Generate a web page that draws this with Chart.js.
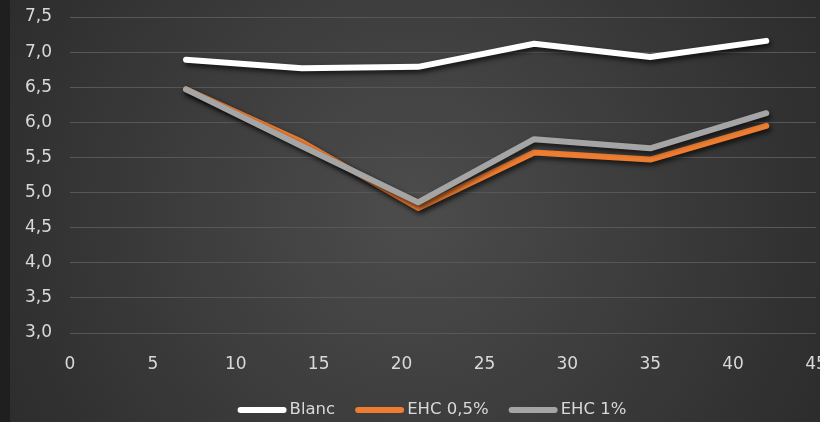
<!DOCTYPE html>
<html>
<head>
<meta charset="utf-8">
<script src="https://cdn.jsdelivr.net/npm/chart.js@4"></script>
<style>
  html, body { margin: 0; padding: 0; background: #1f1f1f; }
  #wrap { width: 820px; height: 422px; }
</style>
</head>
<body>
<div id="wrap"><canvas id="phChart" width="820" height="422"></canvas></div>
<script>
const days = [7, 14, 21, 28, 35, 42];
const blanc = [6.89, 6.77, 6.79, 7.12, 6.93, 7.16];
const ehc05 = [6.47, 5.72, 4.78, 5.57, 5.47, 5.95];
const ehc1 = [6.47, 5.66, 4.86, 5.76, 5.63, 6.13];

const seriesNames = ["Blanc", "EHC 0,5%", "EHC 1%"];
const seriesColors = ["#ffffff", "#ed7d31", "#a5a5a5"];

const textColor = "#d9d9d9";
const fontFamily = "'DejaVu Sans', sans-serif";
const tickFont = { family: fontFamily, size: 17 };

const pts = (ys) => days.map((d, i) => ({ x: d, y: ys[i] }));

// dark radial backdrop, narrow darker strip on the left edge
const backdrop = {
  id: "backdrop",
  beforeDraw(chart) {
    const { ctx, width, height } = chart;
    ctx.save();
    ctx.fillStyle = "#1f1f1f";
    ctx.fillRect(0, 0, width, height);
    const g = ctx.createRadialGradient(width / 2, height / 2, 20, width / 2, height / 2, width * 0.6);
    g.addColorStop(0, "#4b4b4b");
    g.addColorStop(1, "#2a2a2a");
    ctx.fillStyle = g;
    ctx.fillRect(10, 0, width - 10, height);
    ctx.restore();
  },
};

// soft drop shadow under every line
const lineShadow = {
  id: "lineShadow",
  beforeDatasetDraw(chart) {
    const ctx = chart.ctx;
    ctx.save();
    ctx.shadowColor = "rgba(0,0,0,0.7)";
    ctx.shadowBlur = 5;
    ctx.shadowOffsetX = 2;
    ctx.shadowOffsetY = 3;
  },
  afterDatasetDraw(chart) {
    chart.ctx.restore();
  },
};

// legend row under the x axis: short thick line swatch, then the name
const lineLegend = {
  id: "lineLegend",
  afterDraw(chart) {
    const ctx = chart.ctx;
    const swatch = 49, gap = 3, itemGap = 20, y = 410, cx = 432;
    ctx.save();
    ctx.font = "16.5px " + fontFamily;
    ctx.textBaseline = "middle";
    const items = chart.data.datasets.map((ds) => ({
      label: ds.label,
      color: ds.borderColor,
      w: ctx.measureText(ds.label).width,
    }));
    const total = items.reduce((s, it) => s + swatch + gap + it.w, 0) + itemGap * (items.length - 1);
    let x = cx - total / 2;
    items.forEach((it) => {
      ctx.strokeStyle = it.color;
      ctx.lineWidth = 6;
      ctx.lineCap = "round";
      ctx.beginPath();
      ctx.moveTo(x + 3, y);
      ctx.lineTo(x + swatch - 3, y);
      ctx.stroke();
      ctx.fillStyle = textColor;
      ctx.fillText(it.label, x + swatch + gap, y);
      x += swatch + gap + it.w + itemGap;
    });
    ctx.restore();
  },
};

const makeSet = (i, ys, order) => ({
  label: seriesNames[i],
  data: pts(ys),
  borderColor: seriesColors[i],
  backgroundColor: seriesColors[i],
  borderWidth: 6,
  borderCapStyle: "round",
  borderJoinStyle: "round",
  pointRadius: 0,
  tension: 0,
  order: order,
});

new Chart(document.getElementById("phChart"), {
  type: "line",
  data: {
    datasets: [makeSet(0, blanc, 0), makeSet(1, ehc05, 2), makeSet(2, ehc1, 1)],
  },
  plugins: [backdrop, lineShadow, lineLegend],
  options: {
    responsive: false,
    animation: false,
    layout: { padding: { left: 0, right: 4, top: 17, bottom: 0 } },
    plugins: {
      tooltip: { enabled: false },
      legend: { display: false },
    },
    scales: {
      x: {
        type: "linear",
        min: 0,
        max: 45,
        ticks: { stepSize: 5, color: textColor, font: tickFont, padding: 21 },
        grid: { display: false, drawTicks: false },
        border: { display: false },
        afterFit(scale) {
          scale.height = 89;
          scale.paddingLeft = 0;
          scale.paddingRight = 0;
        },
      },
      y: {
        min: 3,
        max: 7.5,
        ticks: {
          stepSize: 0.5,
          color: textColor,
          font: tickFont,
          padding: 18,
          callback: (v) => v.toFixed(1).replace(".", ","),
        },
        grid: { color: "#575757", lineWidth: 1, drawTicks: false },
        border: { display: false },
        afterFit(scale) {
          scale.width = 70;
          scale.paddingTop = 0;
          scale.paddingBottom = 0;
        },
      },
    },
  },
});
</script>
</body>
</html>
